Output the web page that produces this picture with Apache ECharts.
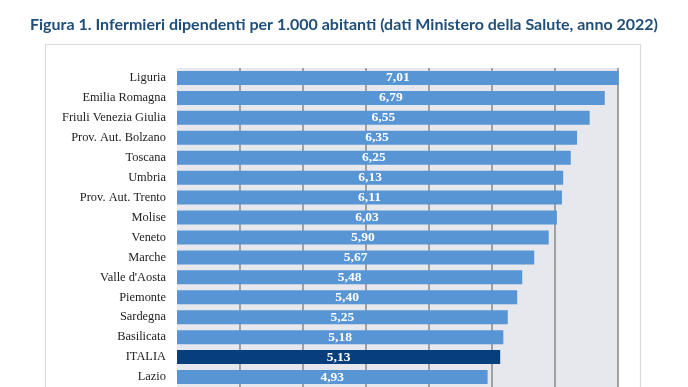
<!DOCTYPE html>
<html>
<head>
<meta charset="utf-8">
<script src="https://cdn.jsdelivr.net/npm/echarts@6/dist/echarts.min.js"></script>
<style>
html,body{margin:0;padding:0;background:#fff;}
#c{width:688px;height:387px;}
</style>
</head>
<body>
<div id="c"></div>
<script>
const titleText = 'Figura 1. Infermieri dipendenti per 1.000 abitanti (dati Ministero della Salute, anno 2022)';
const categories = ['Liguria','Emilia Romagna','Friuli Venezia Giulia','Prov. Aut. Bolzano','Toscana','Umbria','Prov. Aut. Trento','Molise','Veneto','Marche',"Valle d'Aosta",'Piemonte','Sardegna','Basilicata','ITALIA','Lazio'];
const values = [7.01,6.79,6.55,6.35,6.25,6.13,6.11,6.03,5.90,5.67,5.48,5.40,5.25,5.18,5.13,4.93];
const highlight = 'ITALIA';

const chart = echarts.init(document.getElementById('c'), null, {renderer:'canvas'});
chart.setOption({
  animation:false,
  backgroundColor:'#ffffff',
  title:{
    text:titleText,
    left:'center', top:12,
    textStyle:{fontFamily:'Lato', fontWeight:'bold', fontSize:16, color:'#1f4e79'}
  },
  graphic:[{
    type:'rect', z:-10, silent:true,
    shape:{x:45.5, y:44.5, width:595, height:400},
    style:{fill:'none', stroke:'#dadada', lineWidth:1.2}
  }],
  grid:{
    left:177, top:68, width:441, height:323,
    show:true, backgroundColor:'#e7e8ee', borderWidth:0
  },
  xAxis:{
    type:'value', min:0, max:7, interval:1,
    axisLine:{show:false}, axisTick:{show:false}, axisLabel:{show:false},
    splitLine:{show:true, showMinLine:false, showMaxLine:true, lineStyle:{color:'#8e8e8e', width:1.6}}
  },
  yAxis:{
    type:'category', data:categories, inverse:true,
    axisLine:{show:false}, axisTick:{show:false},
    axisLabel:{margin:11, fontFamily:'Liberation Serif', fontSize:12.4, color:'#222222'}
  },
  series:[{
    type:'bar', barWidth:14, clip:false,
    data:values.map((v,i)=>({value:v, itemStyle:{color: categories[i]===highlight ? '#073f7d' : '#5895d4'}})),
    label:{show:true, position:'inside', color:'#ffffff', fontFamily:'Liberation Serif', fontWeight:'bold', fontSize:13.5,
      formatter:p=>p.value.toFixed(2).replace('.',',')}
  }]
});
</script>
</body>
</html>
